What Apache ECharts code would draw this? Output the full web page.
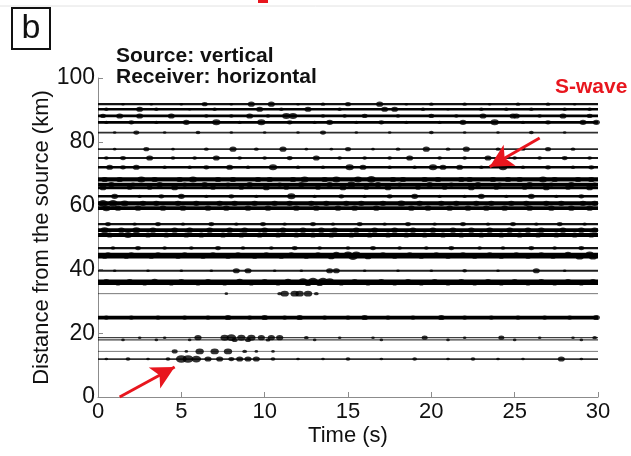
<!DOCTYPE html>
<html>
<head>
<meta charset="utf-8">
<script src="https://cdn.jsdelivr.net/npm/echarts@6/dist/echarts.min.js"></script>
<style>
html, body { margin: 0; padding: 0; background: #fff; }
#chart { width: 631px; height: 456px; }
</style>
</head>
<body>
<div id="chart"></div>
<script>
// distance of every trace (km) and its background noise level (arbitrary units)
var traceDist = [91.8, 90.2, 88.1, 86.1, 82.9, 77.7, 74.9, 72.0, 68.2, 66.6, 65.6, 62.9, 60.7, 59.2,
    54.2, 52.3, 50.8, 46.7, 44.7, 44.0, 39.6, 36.3, 35.6, 32.4, 24.9, 18.6, 17.9, 14.3, 11.9];
var traceNoise = [1.6, 1.8, 2.0, 2.0, 1.2, 1.3, 1.5, 1.8, 3.0, 2.5, 2.2, 1.8, 3.0, 2.8,
    1.6, 2.8, 2.8, 1.6, 2.2, 2.5, 1.4, 2.6, 2.4, 0.6, 2.6, 1.0, 1.0, 0.6, 1.2];

// energy bursts on each trace: [time (s), amplitude]
var traceBursts = [
    [[1.5, 1.5], [3.2, 1.5], [5.0, 1.5], [6.4, 2.5], [8.0, 1.5], [9.2, 3], [10.4, 3], [12.0, 1.5], [13.5, 2], [15.0, 2.5], [16.9, 3], [18.5, 1.5], [20.0, 2], [22.0, 2], [23.5, 1.5], [25.2, 2], [27.0, 2], [28.6, 1.5]],
    [[0.5, 2], [2.5, 3], [3.5, 2], [5.5, 1.5], [7.0, 2], [9.7, 3], [11.0, 2], [12.6, 3], [14.5, 2], [17.2, 3], [17.8, 3], [19.5, 2], [21.0, 1.5], [23.0, 2], [24.5, 2], [26.0, 2], [28.0, 2], [29.5, 2]],
    [[0.3, 2.5], [1.3, 3], [2.5, 3], [4.4, 3], [6.5, 2], [8.0, 2], [9.1, 3], [10.2, 2], [11.3, 3.5], [11.7, 3.5], [13.5, 2], [14.8, 2], [16.0, 2.5], [18.0, 2], [20.0, 2.5], [21.5, 2], [23.1, 3], [24.9, 3], [25.1, 3], [26.5, 2], [27.9, 3], [29.5, 2.5]],
    [[0.5, 2], [2.0, 2.5], [3.5, 2], [5.3, 3], [7.1, 3.5], [8.5, 2], [9.8, 3.5], [11.5, 2.5], [13.0, 2], [13.9, 3], [15.5, 2], [17.0, 2.5], [18.5, 2], [20.5, 2], [21.9, 3], [23.8, 3.5], [25.5, 2], [27.0, 2.5], [29.1, 3], [29.9, 3]],
    [[1.0, 1.5], [2.3, 2.5], [4.0, 1.5], [6.0, 2], [8.0, 1.5], [10.0, 1.5], [12.0, 1.5], [13.5, 2.5], [15.5, 1.5], [17.5, 1.5], [20.0, 2], [22.0, 1.5], [24.0, 1.5], [26.0, 2], [28.0, 1.5]],
    [[1.0, 1.5], [2.9, 2.5], [4.5, 1.5], [6.5, 2], [8.1, 3], [9.5, 2], [11.1, 3], [12.5, 1.5], [14.0, 1.5], [15.0, 2.5], [16.5, 1.5], [18.0, 2], [19.7, 3], [21.0, 2], [22.1, 3], [24.0, 2], [25.5, 2], [27.0, 2.5], [28.5, 2]],
    [[0.5, 2], [1.5, 2.5], [3.1, 3], [4.5, 2], [5.8, 2], [7.1, 3], [8.5, 2], [10.0, 2], [11.5, 2.5], [13.1, 3], [14.5, 2], [16.0, 2], [17.5, 2], [18.7, 3], [20.5, 2], [22.0, 2], [23.4, 3], [25.0, 2], [26.5, 2], [28.0, 2.5], [29.5, 2]],
    [[0.7, 3], [1.5, 2.5], [2.3, 3], [4.0, 2], [5.5, 2], [6.5, 2.5], [7.9, 3], [9.0, 2], [10.5, 3.5], [12.0, 2], [13.5, 2], [15.1, 3.5], [15.9, 3], [17.5, 2], [19.0, 2], [20.1, 3.5], [20.7, 3], [21.7, 3], [23.0, 2], [24.3, 3.5], [25.5, 2], [27.0, 2.5], [28.5, 2], [29.6, 2.5]],
    [[0.4, 3], [1.3, 3], [2.6, 3.5], [3.4, 3], [4.9, 3], [5.7, 3.5], [7.2, 3], [8.1, 3], [9.6, 3], [10.3, 3], [11.7, 3], [12.4, 3.5], [13.6, 3], [14.3, 3.5], [15.6, 3.5], [16.4, 4], [17.7, 3], [18.3, 3], [19.6, 3], [20.4, 3], [21.8, 3], [22.3, 3], [23.7, 3], [24.6, 3], [25.3, 3], [26.7, 3.5], [27.4, 3], [28.8, 3], [29.6, 3]],
    [[0.8, 3], [2.1, 2.5], [3.7, 3], [5.2, 2.5], [6.4, 3], [7.8, 2.5], [9.1, 3], [10.9, 2.5], [12.2, 3], [13.9, 3], [15.2, 3.5], [16.8, 3], [18.1, 2.5], [19.9, 3], [21.2, 2.5], [22.8, 3], [24.1, 2.5], [25.9, 3], [27.2, 2.5], [28.4, 3], [29.8, 2.5]],
    [[0.3, 3], [1.9, 2.5], [3.1, 2.5], [4.6, 3], [6.9, 2.5], [8.6, 2.5], [10.1, 3], [11.3, 2.5], [13.2, 2.5], [14.7, 3], [16.1, 2.5], [17.4, 3], [19.2, 2.5], [20.8, 2.5], [22.4, 3], [23.9, 2.5], [25.6, 2.5], [26.9, 3], [28.2, 2.5], [29.5, 3]],
    [[1.0, 3], [2.5, 2], [3.8, 2.5], [5.0, 3], [6.5, 2], [8.0, 2.5], [9.5, 2], [11.6, 3.5], [13.0, 2], [14.6, 2.5], [16.0, 2], [17.5, 2.5], [19.0, 3], [20.5, 2], [22.0, 2], [23.0, 3], [24.5, 2], [26.0, 3], [27.5, 2], [29.0, 2.5]],
    [[0.3, 4], [0.9, 4], [1.6, 3.5], [2.7, 3], [3.5, 3], [4.8, 3], [5.9, 3], [7.3, 3], [8.2, 3], [9.4, 3], [10.6, 3], [11.5, 3], [12.8, 3], [13.7, 3], [14.9, 3], [15.8, 3], [17.1, 3], [18.2, 3.5], [19.3, 3], [20.6, 3], [21.5, 3], [22.7, 3], [23.6, 3], [24.8, 3], [25.7, 3], [26.9, 3], [27.8, 3], [29.1, 3], [29.8, 3]],
    [[0.5, 3.5], [1.2, 3], [2.4, 3], [3.9, 3], [5.1, 3], [6.6, 3], [7.7, 3], [9.0, 3], [10.2, 3], [11.9, 3], [13.1, 3], [14.4, 3], [15.4, 3], [16.7, 3], [18.8, 3], [19.8, 3], [21.1, 3], [22.2, 3], [23.3, 3], [24.4, 3], [25.9, 3], [27.2, 3], [28.4, 3], [29.5, 3]],
    [[0.6, 2.5], [2.2, 2], [3.6, 2.5], [5.1, 2], [6.8, 2.5], [8.3, 2], [9.9, 2.5], [11.2, 2], [12.9, 2.5], [14.1, 2], [15.7, 2.5], [17.2, 2], [18.6, 2.5], [20.2, 2], [21.9, 2.5], [23.4, 2], [24.9, 2.5], [26.3, 2], [27.7, 2.5], [29.2, 2]],
    [[0.4, 3.5], [1.4, 3], [2.3, 3.5], [3.3, 3], [4.6, 3], [5.5, 3], [6.7, 3], [7.9, 3], [8.8, 3], [10.0, 3], [11.1, 3], [12.3, 3], [13.4, 3], [14.2, 3], [15.5, 3], [16.6, 3], [17.8, 3], [18.9, 3], [20.1, 3], [21.3, 3], [22.4, 3], [23.5, 3], [24.7, 3], [25.8, 3], [26.6, 3], [27.9, 3], [29.0, 3], [29.8, 3]],
    [[0.7, 3], [1.8, 3.5], [3.0, 3], [4.1, 3], [5.3, 3], [6.2, 3], [7.5, 3], [8.6, 3], [9.7, 3], [10.8, 3], [11.9, 3], [12.9, 3], [14.0, 3], [15.2, 3], [16.3, 3], [17.4, 3], [18.5, 3], [19.6, 3], [20.7, 3], [21.8, 3], [23.0, 3], [24.2, 3], [25.3, 3], [26.4, 3], [27.5, 3], [28.6, 3], [29.6, 3]],
    [[0.9, 2], [2.4, 2.5], [4.0, 2], [5.6, 2], [7.2, 2.5], [8.7, 2], [10.4, 2], [11.8, 2.5], [13.3, 2], [15.0, 2], [16.5, 2.5], [18.1, 2], [19.7, 2], [21.2, 2.5], [22.9, 2], [24.3, 2], [26.0, 2.5], [27.4, 2], [29.0, 2.5]],
    [[0.6, 2.5], [2.0, 2.5], [3.6, 2.5], [5.2, 2.5], [6.9, 2.5], [8.4, 2.5], [10.1, 2.5], [11.6, 2.5], [13.2, 2.5], [14.3, 3], [15.0, 3.5], [15.5, 3.5], [17.1, 2.5], [18.7, 2.5], [20.3, 2.5], [21.9, 2.5], [23.5, 2.5], [25.1, 2.5], [26.6, 2.5], [28.2, 3], [29.5, 3.5]],
    [[0.4, 2.5], [1.7, 2.5], [3.2, 2.5], [4.8, 2.5], [6.3, 2.5], [7.8, 2.5], [9.4, 2.5], [11.0, 2.5], [12.5, 2.5], [14.0, 3], [15.3, 4], [16.2, 3], [17.8, 2.5], [19.4, 2.5], [21.0, 2.5], [22.6, 2.5], [24.2, 2.5], [25.8, 2.5], [27.3, 2.5], [28.9, 3.5], [29.7, 3.5]],
    [[1.0, 1.5], [3.0, 1.5], [5.0, 1.5], [6.8, 1.5], [8.3, 3], [9.0, 3], [10.6, 1.5], [12.2, 1.5], [13.9, 3], [14.3, 3], [16.0, 1.5], [18.0, 1.5], [20.0, 1.5], [22.0, 2], [24.0, 1.5], [26.3, 3], [28.0, 1.5]],
    [[0.5, 2.5], [1.9, 2.5], [3.4, 3], [5.0, 2.5], [6.6, 2.5], [8.5, 3], [10.0, 2.5], [11.4, 3], [12.3, 3.5], [12.9, 4], [13.5, 4], [13.9, 3.5], [15.4, 2.5], [17.0, 2.5], [18.6, 2.5], [20.2, 2.5], [21.8, 2.5], [23.4, 2.5], [25.0, 2.5], [26.6, 2.5], [28.2, 2.5], [29.7, 2.5]],
    [[1.2, 2.5], [2.8, 2.5], [4.4, 2.5], [6.0, 2.5], [7.6, 2.5], [9.2, 2.5], [10.8, 2.5], [12.6, 3], [13.3, 3], [14.6, 2.5], [16.2, 2.5], [17.8, 2.5], [19.4, 2.5], [21.0, 2.5], [22.6, 2.5], [24.2, 2.5], [25.8, 2.5], [27.4, 2.5], [29.0, 2.5]],
    [[7.7, 1.5], [10.9, 2], [11.2, 3.5], [11.8, 3.5], [12.1, 3.5], [12.6, 3.5], [13.1, 2]],
    [[0.5, 2.5], [2.0, 2.5], [3.6, 2.5], [5.2, 2.5], [6.6, 2.5], [7.8, 3], [9.1, 2.5], [10.0, 3], [11.2, 2.5], [12.1, 3], [13.6, 2.5], [15.0, 2.5], [16.0, 3], [17.4, 2.5], [18.9, 2.5], [20.6, 3], [22.0, 2.5], [23.6, 2.5], [25.2, 2.5], [26.8, 2.5], [28.3, 2.5], [29.9, 3]],
    [[2.5, 1.5], [4.0, 1.5], [6.0, 3], [7.6, 3.5], [8.0, 4], [8.6, 3.5], [9.2, 3.5], [9.8, 3], [10.4, 3], [10.9, 3], [12.5, 2], [14.5, 1.5], [16.5, 1.5], [19.6, 2.5], [22.0, 1.5], [24.2, 2.5], [26.5, 1.5], [28.5, 1.5], [29.8, 2]],
    [[1.5, 1.5], [3.5, 1.5], [5.5, 1.5], [8.2, 2.5], [9.0, 2.5], [10.2, 2], [13.0, 1.5], [17.0, 1.5], [21.0, 1.5], [25.0, 1.5], [29.0, 1.5]],
    [[4.6, 2.5], [5.3, 1.5], [6.1, 3.5], [7.0, 3.5], [7.8, 3.5], [8.8, 2], [9.5, 1.5], [10.5, 1.5]],
    [[0.5, 1.5], [1.8, 2], [3.0, 1.5], [4.2, 2], [5.0, 4.5], [5.4, 4.5], [5.9, 4], [6.6, 3], [7.3, 3], [8.0, 2.5], [8.5, 3], [9.0, 3], [9.5, 3], [10.5, 2], [12.0, 1.5], [13.5, 1.5], [15.0, 2], [17.0, 1.5], [19.0, 2], [21.0, 1.5], [22.5, 2], [24.0, 1.5], [25.5, 1.5], [27.8, 3], [29.0, 1.5]]
];

var timeRange = [0, 30];
var timeTicks = 5;
var distTicks = 20;

// red arrows, [tail, tip] as [time, distance]
var arrowLines = [
    [[1.3, 0], [4.6, 9.4]],
    [[26.5, 81.2], [23.5, 72.2]]
];

var red = "#e8161e";
var fontFamily = "Liberation Sans, Arial, sans-serif";

var chart = echarts.init(document.getElementById("chart"));

var series = [];
var burstData = [];
for (var i = 0; i < traceDist.length; i++) {
    var n = traceNoise[i];
    series.push({
        type: "line",
        data: [[timeRange[0], traceDist[i]], [timeRange[1], traceDist[i]]],
        symbol: "none",
        silent: true,
        lineStyle: {
            color: "#000",
            width: n * 1.4,
            opacity: Math.min(1, 0.45 + n * 0.3)
        },
        z: 2
    });
    for (var j = 0; j < traceBursts[i].length; j++) {
        burstData.push([traceBursts[i][j][0], traceDist[i], traceBursts[i][j][1]]);
    }
}

series.push({
    type: "scatter",
    data: burstData,
    symbol: "circle",
    symbolSize: function(v) {
        return [v[2] * 2.4, v[2] * 1.7];
    },
    itemStyle: { color: "#000" },
    silent: true,
    z: 3,
    markLine: {
        silent: true,
        symbol: ["none", "arrow"],
        symbolSize: [18, 23],
        label: { show: false },
        lineStyle: { color: red, width: 3, type: "solid" },
        data: arrowLines.map(function(a) {
            return [{ coord: a[0] }, { coord: a[1] }];
        })
    }
});

var option = {
    backgroundColor: "#fff",
    animation: false,
    grid: { left: 98, right: 33, top: 78, bottom: 59 },
    xAxis: {
        type: "value",
        min: timeRange[0],
        max: timeRange[1],
        interval: timeTicks,
        name: "Time (s)",
        nameLocation: "middle",
        nameGap: 28,
        nameMoveOverlap: false,
        nameTextStyle: { fontSize: 22, color: "#111", fontFamily: fontFamily },
        axisLine: { lineStyle: { color: "#8c8c8c", width: 1 } },
        axisTick: { inside: true, length: 5, lineStyle: { color: "#8c8c8c" } },
        axisLabel: { fontSize: 22, color: "#111", margin: 4, fontFamily: fontFamily },
        splitLine: { show: false }
    },
    yAxis: {
        type: "value",
        min: 0,
        max: 100,
        interval: distTicks,
        name: "Distance from the source (km)",
        nameLocation: "middle",
        nameGap: 45,
        nameMoveOverlap: false,
        nameTextStyle: { fontSize: 22, color: "#111", fontFamily: fontFamily },
        axisLine: { show: true, lineStyle: { color: "#8c8c8c", width: 1 } },
        axisTick: { show: true, inside: true, length: 5, lineStyle: { color: "#8c8c8c" } },
        axisLabel: { fontSize: 23, color: "#111", margin: 3, fontFamily: fontFamily },
        splitLine: { show: false }
    },
    graphic: [
        { type: "line", shape: { x1: 0, y1: 6, x2: 631, y2: 6 }, style: { stroke: "#e2e2e2", lineWidth: 1 } },
        { type: "rect", shape: { x: 258, y: 0, width: 10, height: 3 }, style: { fill: red } },
        { type: "rect", shape: { x: 12, y: 8, width: 38, height: 41 }, style: { fill: "none", stroke: "#111", lineWidth: 2 } },
        { type: "text", x: 31, y: 29, style: { text: "b", font: "34px " + fontFamily, fill: "#111", align: "center", verticalAlign: "middle" } },
        { type: "text", left: 116, top: 46, style: { text: "Source: vertical", font: "bold 21px " + fontFamily, fill: "#111" } },
        { type: "text", left: 116, top: 67, style: { text: "Receiver: horizontal", font: "bold 21px " + fontFamily, fill: "#111" } },
        { type: "text", left: 555, top: 77, style: { text: "S-wave", font: "bold 21px " + fontFamily, fill: red } }
    ],
    series: series
};

chart.setOption(option);
</script>
</body>
</html>
